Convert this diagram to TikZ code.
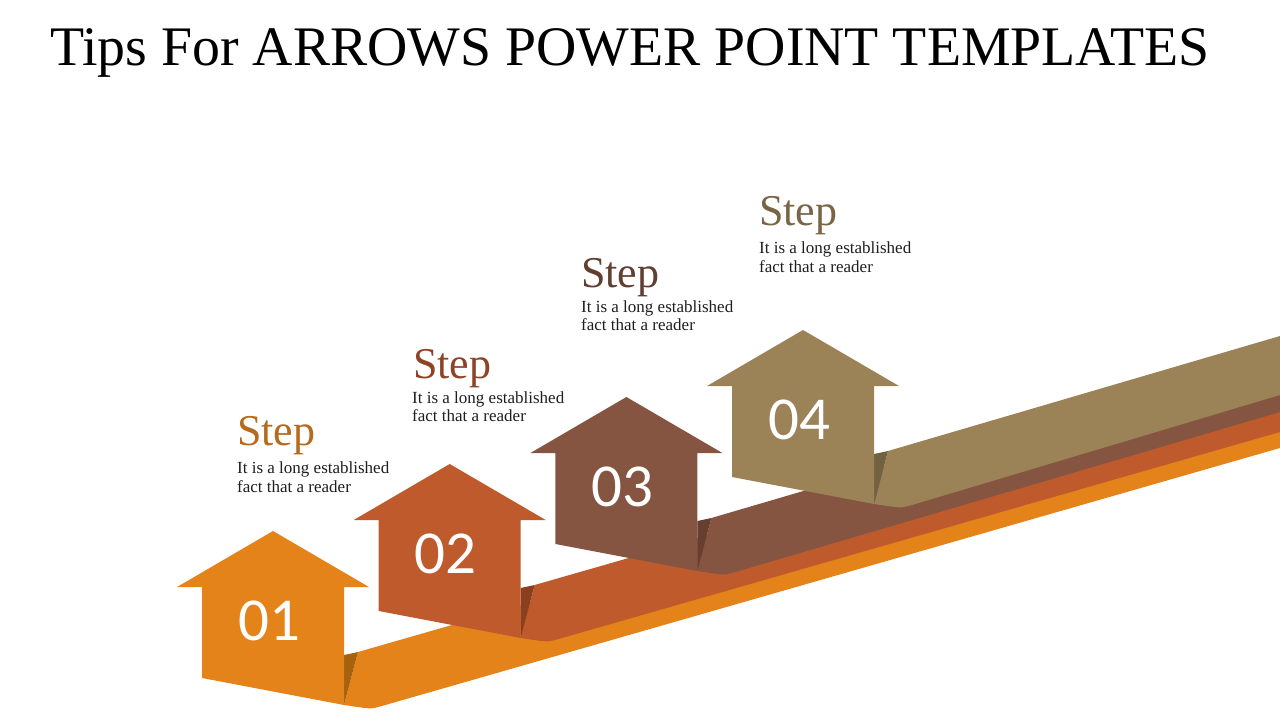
\documentclass[tikz,border=0pt]{standalone}
\usepackage{fontspec}
\setmainfont{Liberation Serif}
\newfontfamily\numfont{Carlito}
\definecolor{c1}{HTML}{E4831A}
\definecolor{c2}{HTML}{BE5A2C}
\definecolor{c3}{HTML}{855541}
\definecolor{c4}{HTML}{9B8257}
\definecolor{f1}{HTML}{A6620F}
\definecolor{f2}{HTML}{8A401F}
\definecolor{f3}{HTML}{653F2F}
\definecolor{f4}{HTML}{716240}
\definecolor{s1}{HTML}{B56A1C}
\definecolor{s2}{HTML}{8F4326}
\definecolor{s3}{HTML}{603F31}
\definecolor{s4}{HTML}{7A6446}
\definecolor{bodytxt}{HTML}{1E1E1E}
\tikzset{
  numtext/.style={text=white, inner sep=0, font=\numfont\fontsize{61}{61}\selectfont},
  stephead/.style={anchor=base west, inner sep=0, font=\fontsize{44}{44}\selectfont},
  bodyline/.style={anchor=base west, inner sep=0, text=bodytxt, font=\fontsize{17}{19}\selectfont},
  titletext/.style={anchor=base west, inner sep=0, text=black, font=\fontsize{55.8}{60}\selectfont}
}
\begin{document}
\begin{tikzpicture}[x=1pt,y=-1pt]
\useasboundingbox (0,0) rectangle (1280,720);
\node[titletext] (title) at (50,65) {Tips For ARROWS POWER POINT TEMPLATES};
\foreach \i/\tx/\ty/\tp/\bt/\c/\fc in {1/273/531/387/448/c1/f1, 2/449.7/464/371/432/c2/f2, 3/626.4/397/351/412/c3/f3, 4/803/330/336/395/c4/f4} {
  \begin{scope}[shift={(\tx,\ty)}]
    % band
    \fill[\c] (85,121) -- ({1280-\tx},{\tp-\ty}) -- ({1280-\tx},{\bt-\ty})
      -- (112,174.1) .. controls (98.5,178) .. (84.6,176) -- (71,174) -- cycle;
    % fold
    \fill[\fc] (71,124) -- (85,121) -- (71,174) -- cycle;
    % arrow
    \fill[\c] (0,0) -- (96,56) -- (71,56) -- (71,174) -- (-71,147) -- (-71,56) -- (-96,56) -- cycle;
    \node[numtext] (n\i) at (-4,90) {0\i};
  \end{scope}
}
\node[stephead, text=s1] (h1) at (237,445) {Step};
\node[bodyline] (b1a) at (237,473) {It is a long established};
\node[bodyline] (b1b) at (237,492) {fact that a reader};
\node[stephead, text=s2] (h2) at (413,378) {Step};
\node[bodyline] (b2a) at (412,403) {It is a long established};
\node[bodyline] (b2b) at (412,421) {fact that a reader};
\node[stephead, text=s3] (h3) at (581,287) {Step};
\node[bodyline] (b3a) at (581,312) {It is a long established};
\node[bodyline] (b3b) at (581,330) {fact that a reader};
\node[stephead, text=s4] (h4) at (759,225) {Step};
\node[bodyline] (b4a) at (759,253) {It is a long established};
\node[bodyline] (b4b) at (759,272) {fact that a reader};
\end{tikzpicture}
\end{document}
